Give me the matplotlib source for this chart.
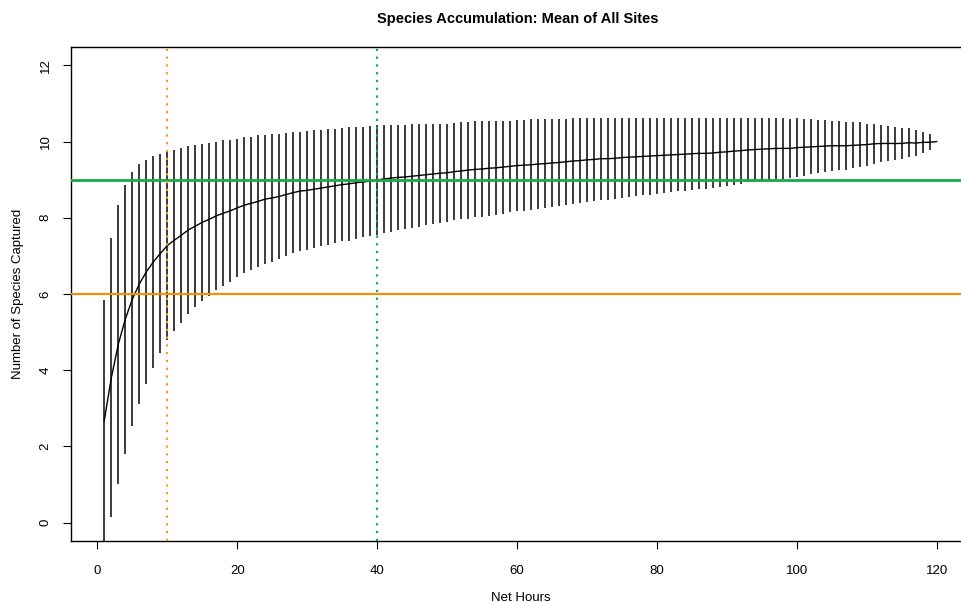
import numpy as np
import matplotlib.pyplot as plt

plt.rcParams['font.family'] = ['Liberation Sans', 'DejaVu Sans']

# net hours 1..120
hours = list(range(1, 121))

# mean species captured
mean_species = [
    2.68, 3.80, 4.68, 5.34, 5.86, 6.26, 6.58, 6.84, 7.06, 7.27,
    7.41, 7.54, 7.68, 7.78, 7.88, 7.96, 8.05, 8.12, 8.18, 8.26,
    8.33, 8.38, 8.43, 8.49, 8.52, 8.56, 8.61, 8.66, 8.70, 8.72,
    8.75, 8.78, 8.81, 8.84, 8.87, 8.89, 8.92, 8.94, 8.96, 8.99,
    9.02, 9.04, 9.06, 9.07, 9.09, 9.11, 9.13, 9.15, 9.17, 9.18,
    9.21, 9.23, 9.25, 9.27, 9.28, 9.30, 9.31, 9.33, 9.35, 9.37,
    9.38, 9.39, 9.41, 9.42, 9.44, 9.45, 9.47, 9.49, 9.50, 9.52,
    9.53, 9.55, 9.55, 9.56, 9.58, 9.59, 9.60, 9.61, 9.62, 9.63,
    9.64, 9.65, 9.66, 9.67, 9.68, 9.69, 9.69, 9.70, 9.72, 9.73,
    9.75, 9.76, 9.78, 9.79, 9.80, 9.81, 9.82, 9.82, 9.82, 9.84,
    9.85, 9.86, 9.87, 9.88, 9.89, 9.89, 9.89, 9.90, 9.91, 9.92,
    9.94, 9.95, 9.95, 9.95, 9.95, 9.97, 9.96, 9.98, 9.98, 10.00,
]

# standard deviation (half bar length)
sd_species = [
    3.15, 3.66, 3.66, 3.53, 3.33, 3.14, 2.93, 2.77, 2.62, 2.48,
    2.38, 2.29, 2.21, 2.13, 2.06, 2.01, 1.95, 1.91, 1.86, 1.81,
    1.78, 1.75, 1.73, 1.69, 1.67, 1.65, 1.62, 1.59, 1.56, 1.56,
    1.55, 1.53, 1.52, 1.50, 1.49, 1.49, 1.47, 1.45, 1.44, 1.44,
    1.41, 1.40, 1.38, 1.37, 1.36, 1.34, 1.33, 1.31, 1.30, 1.29,
    1.28, 1.27, 1.27, 1.26, 1.25, 1.25, 1.23, 1.22, 1.20, 1.19,
    1.19, 1.19, 1.17, 1.16, 1.15, 1.14, 1.13, 1.12, 1.11, 1.10,
    1.09, 1.08, 1.08, 1.07, 1.05, 1.04, 1.03, 1.02, 1.01, 1.00,
    0.99, 0.98, 0.97, 0.96, 0.95, 0.94, 0.94, 0.93, 0.91, 0.90,
    0.88, 0.87, 0.85, 0.84, 0.82, 0.81, 0.80, 0.79, 0.78, 0.77,
    0.75, 0.72, 0.70, 0.68, 0.66, 0.64, 0.63, 0.60, 0.59, 0.55,
    0.52, 0.49, 0.47, 0.44, 0.41, 0.38, 0.33, 0.28, 0.21, 0.00,
]

target_species = 9
half_species = 6
target_hours = 40
half_hours = 10

x = np.array(hours)
m = np.array(mean_species)
s = np.array(sd_species)

fig = plt.figure(figsize=(9.62, 6.02), dpi=100)
ax = fig.add_axes([0.0738, 0.1013, 0.9345, 0.8206])

# sd bars
ax.vlines(x, m - s, m + s, color='#3a3a3a', linewidth=1.4, zorder=2)
ax.plot(x, m, color='black', linewidth=1.0, zorder=3)

ax.axhline(target_species, color='#1aa84a', linewidth=2.0, zorder=4)
ax.axhline(half_species, color='#ff8c00', linewidth=1.5, zorder=4)
ax.axvline(half_hours, color='#f0a020', linewidth=1.6, linestyle=(0, (1, 2.5)), zorder=4)
ax.axvline(target_hours, color='#1aa84a', linewidth=1.6, linestyle=(0, (1, 2.5)), zorder=4)

ax.set_xlim(1 - 0.04 * 119, 120 + 0.04 * 119)
ax.set_ylim(-0.48, 12.48)
ax.set_xticks(range(0, 121, 20))
ax.set_yticks(range(0, 13, 2))
ax.tick_params(direction='out', length=6, width=0.8, labelsize=9.5)
ax.tick_params(axis='x', pad=11)
ax.tick_params(axis='y', pad=8)
for lbl in ax.get_yticklabels():
    lbl.set_rotation(90)
    lbl.set_va('center')
for sp in ax.spines.values():
    sp.set_linewidth(1.0)

ax.set_xlabel('Net Hours', fontsize=9.5, labelpad=11)
ax.set_ylabel('Number of Species Captured', fontsize=9.5, labelpad=11)
fig.text(0.538, 0.968, 'Species Accumulation: Mean of All Sites',
         ha='center', va='center', fontsize=10.5, fontweight='bold')

plt.savefig('out.png', dpi=100)
